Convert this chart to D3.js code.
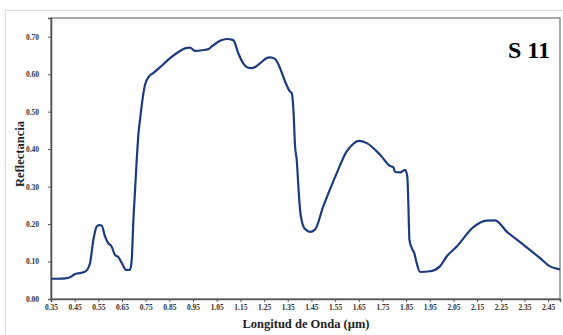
<!DOCTYPE html>
<html>
   <head>
      <script src="https://d3js.org/d3.v7.min.js"></script>
   </head>
   <style>
      body { margin: 0; background: #fff; }
   </style>
   <body>
      <script>
         let [width, height] = [563, 335];
         let margin = {top: 18, right: 3, bottom: 36, left: 51};

         // Spectral signature (wavelength in µm, reflectance)
         let wavelengths = [0.35, 0.38, 0.41, 0.43, 0.45, 0.47, 0.49, 0.505, 0.515, 0.529, 0.543, 0.553, 0.564, 0.578, 0.592, 0.606, 0.62, 0.634, 0.649, 0.667, 0.684, 0.691, 0.698, 0.705, 0.712, 0.72, 0.726, 0.737, 0.747, 0.765, 0.782, 0.82, 0.853, 0.89, 0.916, 0.937, 0.958, 0.99, 1.015, 1.029, 1.064, 1.092, 1.12, 1.141, 1.162, 1.18, 1.198, 1.233, 1.258, 1.275, 1.296, 1.315, 1.339, 1.358, 1.367, 1.374, 1.381, 1.388, 1.395, 1.402, 1.416, 1.43, 1.444, 1.465, 1.5, 1.557, 1.599, 1.625, 1.648, 1.684, 1.74, 1.782, 1.796, 1.803, 1.825, 1.846, 1.855, 1.859, 1.864, 1.874, 1.884, 1.895, 1.909, 1.951, 1.993, 2.022, 2.064, 2.134, 2.19, 2.226, 2.275, 2.345, 2.416, 2.458, 2.493, 2.5];
         let reflectance = [0.054, 0.054, 0.055, 0.058, 0.066, 0.069, 0.072, 0.08, 0.096, 0.158, 0.193, 0.197, 0.196, 0.167, 0.149, 0.14, 0.118, 0.112, 0.096, 0.078, 0.078, 0.105, 0.211, 0.29, 0.37, 0.445, 0.478, 0.535, 0.571, 0.595, 0.603, 0.624, 0.643, 0.66, 0.669, 0.671, 0.662, 0.664, 0.667, 0.674, 0.689, 0.694, 0.691, 0.656, 0.629, 0.618, 0.616, 0.629, 0.642, 0.645, 0.641, 0.62, 0.58, 0.555, 0.549, 0.505, 0.407, 0.371, 0.3, 0.238, 0.194, 0.183, 0.179, 0.185, 0.247, 0.336, 0.394, 0.413, 0.422, 0.416, 0.385, 0.355, 0.352, 0.339, 0.338, 0.345, 0.327, 0.265, 0.158, 0.136, 0.123, 0.095, 0.072, 0.074, 0.087, 0.114, 0.14, 0.192, 0.209, 0.21, 0.18, 0.145, 0.109, 0.087, 0.08, 0.079];

         let xTicks = d3.range(0, 22).map(i => +(0.35 + i * 0.1).toFixed(2));
         let yTicks = [0, 0.1, 0.2, 0.3, 0.4, 0.5, 0.6, 0.7];

         let svg = d3.select('body').append('svg').attr('width', width).attr('height', height);

         // outer frame of the figure
         svg.append('rect')
            .attr('x', 5.5).attr('y', 10.5).attr('width', 700).attr('height', 500)
            .attr('fill', 'none').attr('stroke', '#dcdcdc').attr('stroke-width', 1);

         let x = d3.scaleLinear().domain([0.35, 2.5]).range([margin.left, width - margin.right]);
         let y = d3.scaleLinear().domain([0, 0.75]).range([height - margin.bottom, margin.top]);

         // plot box
         svg.append('rect')
            .attr('x', x(0.35)).attr('y', y(0.75))
            .attr('width', x(2.5) - x(0.35)).attr('height', y(0) - y(0.75))
            .attr('fill', 'none').attr('stroke', '#7a7a7a').attr('stroke-width', 1.3);

         let xAxis = svg.append('g')
            .attr('transform', `translate(0, ${y(0)})`)
            .call(d3.axisBottom(x).tickValues(xTicks).tickFormat(d3.format('.2f')).tickSize(3).tickPadding(3));

         let yAxis = svg.append('g')
            .attr('transform', `translate(${x(0.35)}, 0)`)
            .call(d3.axisLeft(y).tickValues(yTicks).tickFormat(d3.format('.2f')).tickSize(3).tickPadding(9));

         [xAxis, yAxis].forEach(a => {
            a.select('.domain').attr('stroke', '#555').attr('stroke-width', 1.6);
            a.selectAll('.tick line').attr('stroke', '#555');
            a.selectAll('text')
               .style('font-family', 'Liberation Serif')
               .style('font-weight', 'bold')
               .style('font-size', '7.5px')
               .attr('fill', '#333');
         });

         let line = d3.line()
            .x((d, i) => x(wavelengths[i]))
            .y(d => y(d))
            .curve(d3.curveMonotoneX);

         svg.append('path')
            .datum(reflectance)
            .attr('d', line)
            .attr('fill', 'none')
            .attr('stroke', '#1c3b7d')
            .attr('stroke-width', 2.2)
            .attr('stroke-linejoin', 'round');

         // labels
         svg.append('text')
            .text('Longitud de Onda (µm)')
            .attr('x', 306).attr('y', 328)
            .style('text-anchor', 'middle')
            .style('font-family', 'Liberation Serif')
            .style('font-weight', 'bold')
            .style('font-size', '12.5px')
            .attr('fill', '#222');

         svg.append('text')
            .text('Reflectancia')
            .attr('transform', 'translate(24, 154) rotate(-90)')
            .style('text-anchor', 'middle')
            .style('font-family', 'Liberation Serif')
            .style('font-weight', 'bold')
            .style('font-size', '12.5px')
            .attr('fill', '#222');

         svg.append('text')
            .text('S 11')
            .attr('x', 550).attr('y', 58)
            .style('text-anchor', 'end')
            .style('font-family', 'Liberation Serif')
            .style('font-weight', 'bold')
            .style('font-size', '24px')
            .attr('fill', '#000');
      </script>
   </body>
</html>
